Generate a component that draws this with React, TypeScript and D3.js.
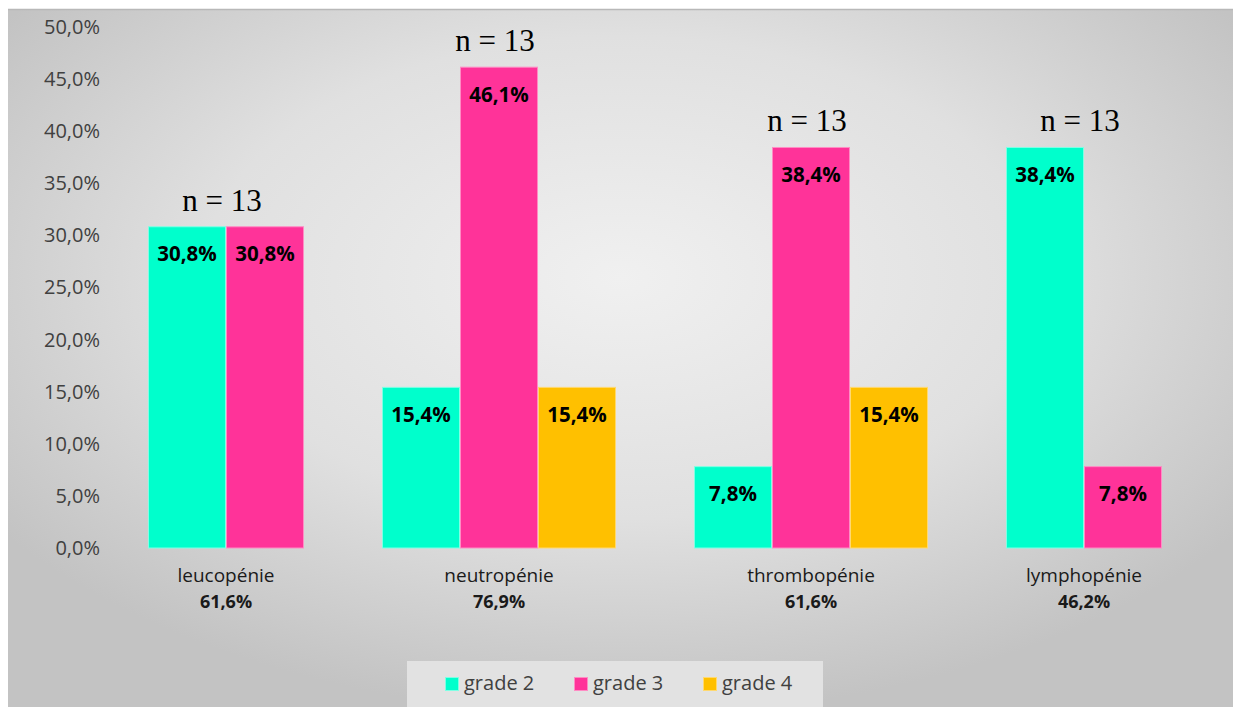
import React from 'react';
import * as d3 from 'd3';

const categories = ['leucopénie', 'neutropénie', 'thrombopénie', 'lymphopénie'];
const seriesNames = ['grade 2', 'grade 3', 'grade 4'];
const grade2 = [30.8, 15.4, 7.8, 38.4];
const grade3 = [30.8, 46.1, 38.4, 7.8];
const grade4: (number | null)[] = [null, 15.4, 15.4, null];
const totals = ['61,6%', '76,9%', '61,6%', '46,2%'];
const nCounts = [13, 13, 13, 13];
const yTicks = [0, 5, 10, 15, 20, 25, 30, 35, 40, 45, 50];

const colors = ['#00FFCC', '#FF3399', '#FFC000'];
const strokes = ['#7FFFE4', '#FF8CC4', '#FFD970'];

const W = 1235;
const H = 707;

export default function App() {
  const seriesValues = [grade2, grade3, grade4];

  type Bar = { key: string; cat: number; s: number; v: number };
  const bars: Bar[] = [];
  const domain: string[] = [];
  categories.forEach((c, i) => {
    if (i > 0) domain.push(`gap-${i}`);
    seriesValues.forEach((vals, s) => {
      const v = vals[i];
      if (v !== null && v !== undefined) {
        const key = `${i}-${s}`;
        domain.push(key);
        bars.push({ key, cat: i, s, v });
      }
    });
  });

  const x = d3.scaleBand<string>().domain(domain).range([148, 1162]).padding(0);
  const y = d3.scaleLinear().domain([0, 50]).range([548, 26.5]);
  const fmt = (v: number) => d3.format('.1f')(v).replace('.', ',') + '%';

  const groupInfo = categories.map((c, i) => {
    const bs = bars.filter((b) => b.cat === i);
    const x0 = d3.min(bs, (b) => x(b.key)!)!;
    const x1 = d3.max(bs, (b) => x(b.key)! + x.bandwidth())!;
    const maxV = d3.max(bs, (b) => b.v)!;
    return { cx: (x0 + x1) / 2, maxV };
  });

  const sans = "'Open Sans', 'DejaVu Sans', sans-serif";

  return (
    <svg width={W} height={H} style={{ position: 'absolute', left: 0, top: 0 }}>
      <defs>
        <radialGradient id="bg" cx="50%" cy="38%" r="62%">
          <stop offset="0%" stopColor="#f0f0f0" />
          <stop offset="55%" stopColor="#e0e0e0" />
          <stop offset="100%" stopColor="#c3c3c3" />
        </radialGradient>
      </defs>
      <rect x={0} y={0} width={W} height={H} fill="#ffffff" />
      <rect x={8} y={9} width={1225} height={H} fill="url(#bg)" />
      <line x1={8} x2={1233} y1={9.5} y2={9.5} stroke="#b8b8b8" strokeWidth={1.5} />

      {yTicks.map((t) => (
        <text
          key={t}
          x={100}
          y={y(t)}
          dy="0.36em"
          textAnchor="end"
          fontFamily={sans}
          fontSize={20}
          fill="#404040"
        >
          {fmt(t)}
        </text>
      ))}

      {bars.map((b) => (
        <rect
          key={b.key}
          x={x(b.key)! + 0.5}
          y={y(b.v)}
          width={x.bandwidth() - 1}
          height={y(0) - y(b.v)}
          fill={colors[b.s]}
          stroke={strokes[b.s]}
          strokeWidth={1}
        />
      ))}

      {bars.map((b) => (
        <text
          key={'l' + b.key}
          x={x(b.key)! + x.bandwidth() / 2}
          y={y(b.v) + 34.5}
          textAnchor="middle"
          fontFamily={sans}
          fontWeight="bold"
          fontSize={20.5}
          fill="#000000"
        >
          {fmt(b.v)}
        </text>
      ))}

      {groupInfo.map((g, i) => (
        <g key={'c' + i}>
          <text x={g.cx} y={582} textAnchor="middle" fontFamily={sans} fontSize={19} fill="#1a1a1a">
            {categories[i]}
          </text>
          <text
            x={g.cx}
            y={608}
            textAnchor="middle"
            fontFamily={sans}
            fontWeight="bold"
            fontSize={18}
            fill="#1a1a1a"
          >
            {totals[i]}
          </text>
          <text
            x={g.cx - 4}
            y={y(g.maxV) - 16}
            textAnchor="middle"
            fontFamily="'Liberation Serif', 'Times New Roman', serif"
            fontSize={31}
            fill="#000000"
          >
            {`n = ${nCounts[i]}`}
          </text>
        </g>
      ))}

      <rect x={407} y={661} width={416} height={50} fill="#e2e2e2" />
      {seriesNames.map((s, i) => (
        <g key={'lg' + s} transform={`translate(${445 + i * 129},0)`}>
          <rect x={0.5} y={677.5} width={13} height={13} fill={colors[i]} stroke={strokes[i]} />
          <text x={19} y={690} fontFamily={sans} fontSize={20} fill="#404040">
            {s}
          </text>
        </g>
      ))}
    </svg>
  );
}
